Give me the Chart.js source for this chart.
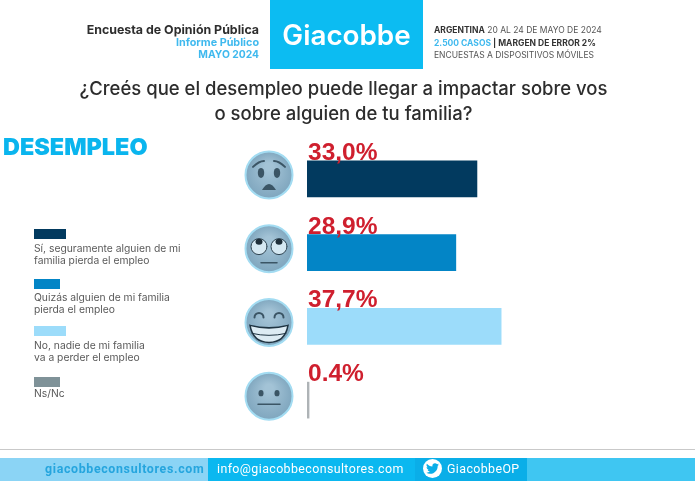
<!DOCTYPE html>
<html lang="es">
<head>
<meta charset="utf-8">
<title>Desempleo</title>
<script src="https://cdn.jsdelivr.net/npm/chart.js@4"></script>
<style>
    html, body { margin: 0; padding: 0; background: #fff; }
    #page { position: relative; width: 699px; height: 486px; overflow: hidden; font-family: Inter, sans-serif; filter: blur(0.35px); }
    #page div { position: absolute; white-space: nowrap; }
    canvas { position: absolute; left: 0; top: 0; }
    .head-left { right: 440px; text-align: right; font-size: 12.4px; font-weight: 700; line-height: 13px; }
    .head-right { left: 434px; font-size: 8.5px; line-height: 12px; color: #555; }
    .question { left: 0; width: 687px; text-align: center; font-size: 18.5px; font-weight: 500; color: #2d2d2d; line-height: 24px; }
    .swatch { left: 34px; height: 10px; }
    .legend-text { left: 34px; font-size: 10.3px; line-height: 12.3px; color: #5a5a5a; }
    .foot { top: 458px; height: 23px; }
    .foot-text { top: 458px; line-height: 22px; font-family: Roboto, sans-serif; font-size: 12.4px; letter-spacing: 0.4px; }
</style>
</head>
<body>
<div id="page">
    <div style="left:270px;top:0;width:153px;height:69px;background:#0cbcf2"></div>
    <div style="left:270px;width:153px;top:15px;text-align:center;color:#fff;font-size:27.8px;font-weight:600;line-height:40px">Giacobbe</div>

    <div class="head-left" style="top:23px;color:#2e2e2e">Encuesta de Opinión Pública</div>
    <div class="head-left" style="top:36px;color:#3fb9ee;font-size:10.8px">Informe Público</div>
    <div class="head-left" style="top:48px;color:#3fb9ee;font-size:10.3px">MAYO 2024</div>

    <div class="head-right" style="top:24px"><b style="color:#333">ARGENTINA</b> 20 AL 24 DE MAYO DE 2024</div>
    <div class="head-right" style="top:37px;color:#333;font-weight:700"><span style="color:#3fb9ee">2.500 CASOS</span> | MARGEN DE ERROR 2%</div>
    <div class="head-right" style="top:49px">ENCUESTAS A DISPOSITIVOS MÓVILES</div>

    <div class="question" style="top:76px">¿Creés que el desempleo puede llegar a impactar sobre vos</div>
    <div class="question" style="top:101px">o sobre alguien de tu familia?</div>

    <div style="left:3px;top:133px;font-size:23.4px;font-weight:900;color:#0ab5ee;line-height:27px">DESEMPLEO</div>

    <div class="swatch" style="top:229px;width:32px;background:#023a5f"></div>
    <div class="legend-text" style="top:242px">Sí, seguramente alguien de mi<br>familia pierda el empleo</div>
    <div class="swatch" style="top:279px;width:26px;background:#0385c6"></div>
    <div class="legend-text" style="top:291px">Quizás alguien de mi familia<br>pierda el empleo</div>
    <div class="swatch" style="top:326px;width:32px;background:#9cdcfa"></div>
    <div class="legend-text" style="top:339px">No, nadie de mi familia<br>va a perder el empleo</div>
    <div class="swatch" style="top:377px;width:26px;background:#7f9298"></div>
    <div class="legend-text" style="top:387px">Ns/Nc</div>

    <div style="left:0;top:449px;width:695px;height:1px;background:#c9c9c9"></div>
    <div class="foot" style="left:0;width:208px;background:#8bd4f5"></div>
    <div class="foot" style="left:208px;width:207px;background:#0bb8f0"></div>
    <div class="foot" style="left:415px;width:112px;background:#0aaee8"></div>
    <div class="foot" style="left:527px;width:168px;background:#3fc6f2"></div>
    <div class="foot-text" style="left:45px;color:#25a5de;font-weight:700;letter-spacing:0.65px">giacobbeconsultores.com</div>
    <div class="foot-text" style="left:217px;color:#fff">info@giacobbeconsultores.com</div>
    <div class="foot-text" style="left:447px;color:#fff">GiacobbeOP</div>
    <div style="left:423px;top:459px;width:19px;height:19px;border-radius:50%;background:#fff"></div>
    <svg style="position:absolute;left:426px;top:462px" width="13" height="13" viewBox="0 0 24 24"><path fill="#0aaee8" d="M23.95 4.57a10 10 0 0 1-2.82.77 4.96 4.96 0 0 0 2.16-2.72c-.95.55-2 .96-3.12 1.19a4.92 4.92 0 0 0-8.38 4.48C7.69 8.1 4.07 6.13 1.64 3.16a4.82 4.82 0 0 0-.67 2.48c0 1.71.87 3.21 2.19 4.1a4.9 4.9 0 0 1-2.23-.61v.06a4.92 4.92 0 0 0 3.95 4.83 5 5 0 0 1-2.21.08 4.94 4.94 0 0 0 4.6 3.42A9.87 9.87 0 0 1 0 19.54a14 14 0 0 0 7.56 2.21c9.05 0 14-7.5 14-13.98 0-.21 0-.42-.01-.63a10 10 0 0 0 2.4-2.57z"/></svg>

    <canvas id="desempleo" width="699" height="486"></canvas>
</div>

<script>
const categories = [
    'Sí, seguramente alguien de mi familia pierda el empleo',
    'Quizás alguien de mi familia pierda el empleo',
    'No, nadie de mi familia va a perder el empleo',
    'Ns/Nc',
];
const values = [33.0, 28.9, 37.7, 0.4];
const valueLabels = ['33,0%', '28,9%', '37,7%', '0.4%'];
const faces = ['worried', 'rolling', 'grin', 'neutral'];
const barColors = ['#023a5f', '#0385c6', '#9cdcfa', '#aeb3b6'];

const dark = '#3b5565';

const arc = (c, x, y, r, a, b) => {
    c.beginPath();
    c.arc(x, y, r, a, b);
    c.stroke();
};

const dot = (c, x, y, rx, ry) => {
    c.beginPath();
    c.ellipse(x, y, rx, ry, 0, 0, Math.PI * 2);
    c.fill();
};

const flatMouth = (c, x, y, w) => {
    c.beginPath();
    c.moveTo(x - w, y);
    c.lineTo(x + w, y);
    c.stroke();
};

const faceParts = {
    worried(c, x, y) {
        c.lineWidth = 2;
        c.beginPath();
        c.moveTo(x - 16, y - 8);
        c.quadraticCurveTo(x - 10, y - 14, x - 5, y - 14);
        c.moveTo(x + 16, y - 8);
        c.quadraticCurveTo(x + 10, y - 14, x + 5, y - 14);
        c.stroke();
        dot(c, x - 8, y - 2, 3.2, 5);
        dot(c, x + 8, y - 2, 3.2, 5);
        c.beginPath();
        c.moveTo(x - 7, y + 15);
        c.quadraticCurveTo(x, y + 3, x + 7, y + 15);
        c.closePath();
        c.fill();
    },
    rolling(c, x, y) {
        c.lineWidth = 1;
        c.fillStyle = '#d5e8f2';
        dot(c, x - 10, y - 2, 8, 8);
        dot(c, x + 10, y - 2, 8, 8);
        c.strokeStyle = '#2f4452';
        arc(c, x - 10, y - 2, 8, 0, Math.PI * 2);
        arc(c, x + 10, y - 2, 8, 0, Math.PI * 2);
        c.fillStyle = '#1f2f3a';
        dot(c, x - 10, y - 7, 3.5, 3);
        dot(c, x + 10, y - 7, 3.5, 3);
        c.strokeStyle = dark;
        c.lineWidth = 1.5;
        flatMouth(c, x, y + 14, 8);
    },
    grin(c, x, y) {
        c.lineWidth = 2;
        arc(c, x - 10, y - 5, 4.5, Math.PI, 0);
        arc(c, x + 10, y - 5, 4.5, Math.PI, 0);
        c.beginPath();
        c.moveTo(x - 19, y + 3);
        c.quadraticCurveTo(x, y + 8, x + 19, y + 3);
        c.quadraticCurveTo(x + 16, y + 20, x, y + 20);
        c.quadraticCurveTo(x - 16, y + 20, x - 19, y + 3);
        c.closePath();
        c.fillStyle = '#dcebf3';
        c.fill();
        c.lineWidth = 1.5;
        c.strokeStyle = '#1f3442';
        c.stroke();
        c.lineWidth = 1;
        c.beginPath();
        c.moveTo(x - 17, y + 11);
        c.quadraticCurveTo(x, y + 15, x + 17, y + 11);
        c.stroke();
    },
    neutral(c, x, y) {
        dot(c, x - 8, y - 3, 2.5, 3.2);
        dot(c, x + 8, y - 3, 2.5, 3.2);
        c.lineWidth = 1.5;
        flatMouth(c, x, y + 8, 11);
    },
};

// faces and percentages sit next to each bar, so they follow the bar elements
const barDecorations = {
    id: 'barDecorations',
    afterDatasetsDraw(chart) {
        const c = chart.ctx;
        chart.getDatasetMeta(0).data.forEach((bar, i) => {
            const x = chart.scales.x.left - 38;
            const y = bar.y - 4;
            const top = bar.y - bar.height / 2;

            c.save();
            const fill = c.createRadialGradient(x, y - 8, 4, x, y, 24);
            fill.addColorStop(0, '#a3c3d6');
            fill.addColorStop(1, '#7fa6be');
            c.fillStyle = fill;
            c.beginPath();
            c.arc(x, y, 23.5, 0, Math.PI * 2);
            c.fill();
            c.strokeStyle = '#a3dcf2';
            c.lineWidth = 2;
            c.stroke();
            c.fillStyle = dark;
            c.strokeStyle = dark;
            c.lineCap = 'round';
            faceParts[faces[i]](c, x, y);
            c.restore();

            c.save();
            c.font = 'bold 24.5px "Liberation Sans", sans-serif';
            c.fillStyle = '#cf1f2e';
            c.textAlign = 'left';
            c.textBaseline = 'alphabetic';
            c.fillText(valueLabels[i], chart.scales.x.left + 1, top - 1);
            c.restore();
        });
    },
};

const drawChart = () => {
    const ctx = document.querySelector('#desempleo');

    const config = {
        type: 'bar',
        data: {
            labels: categories,
            datasets: [
                {
                    data: values,
                    backgroundColor: barColors,
                    barThickness: 36,
                },
            ],
        },
        options: {
            indexAxis: 'y',
            responsive: false,
            animation: false,
            layout: {
                padding: { left: 307, right: 186, top: 142, bottom: 49 },
            },
            scales: {
                x: { display: false, min: 0, max: 40 },
                y: { display: false },
            },
            plugins: {
                legend: { display: false },
                tooltip: { enabled: false },
            },
        },
        plugins: [barDecorations],
    };

    new Chart(ctx, config);
};

document.addEventListener('DOMContentLoaded', drawChart);
</script>
</body>
</html>
